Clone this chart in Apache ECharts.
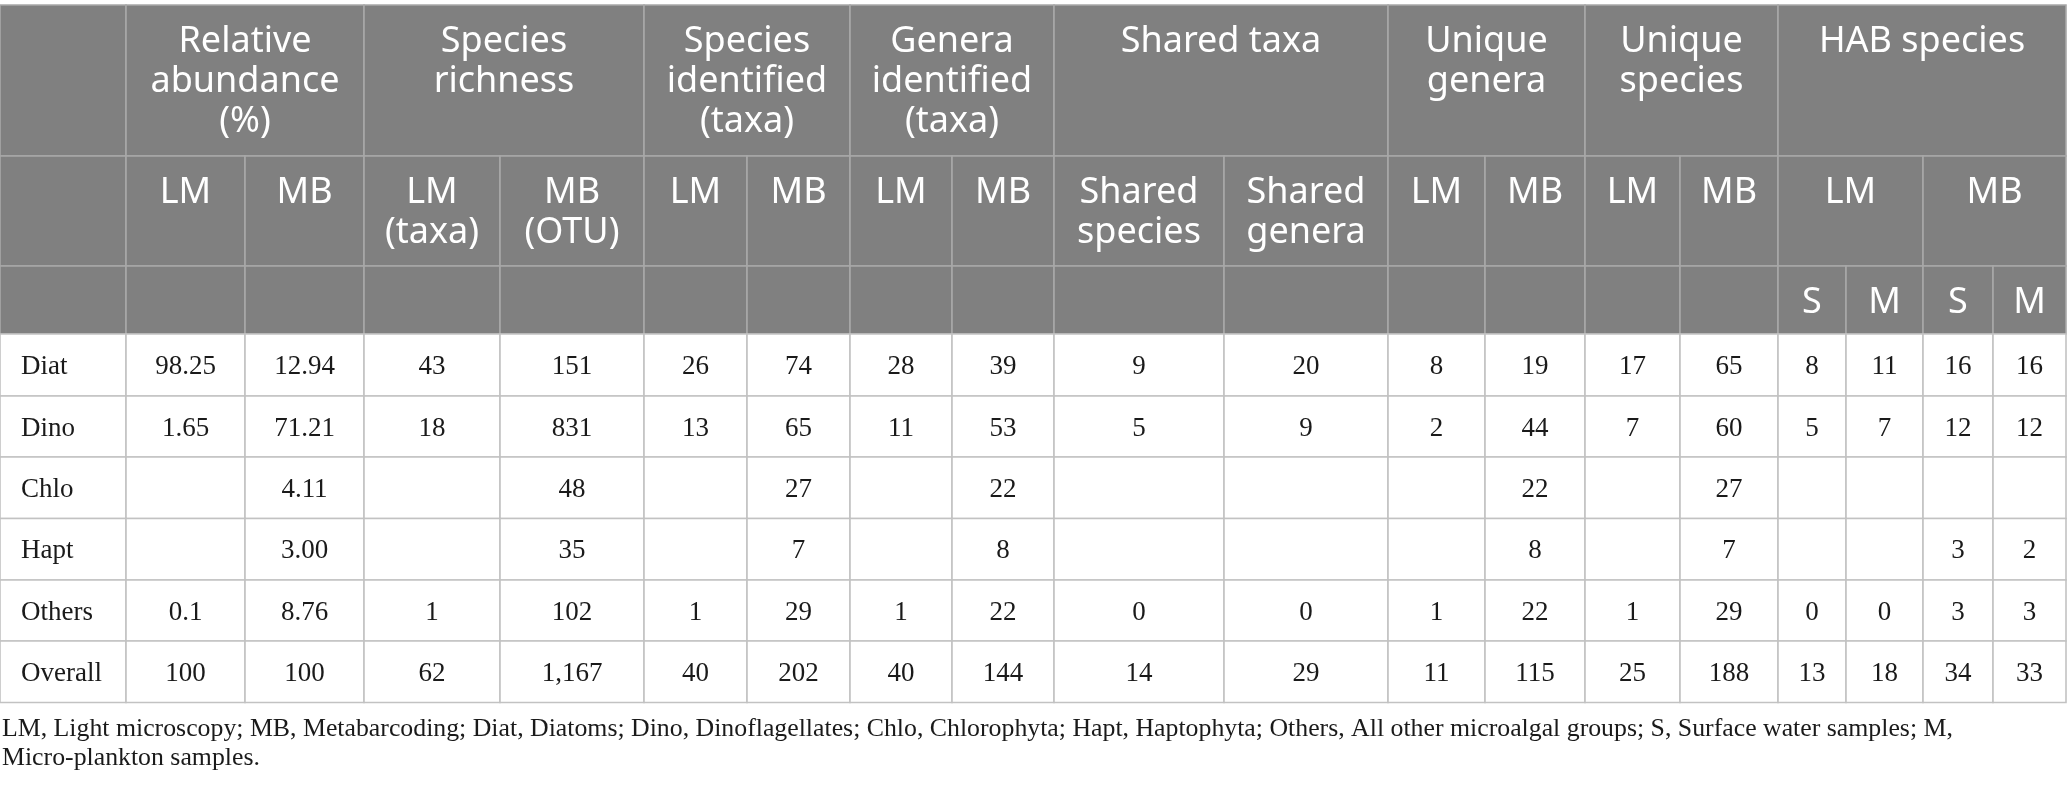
<!DOCTYPE html>
<html>
<head>
<meta charset="utf-8">
<script src="https://cdn.jsdelivr.net/npm/echarts@6/dist/echarts.min.js"></script>
<style>
html,body{margin:0;padding:0;background:#fff;}
#c{width:2068px;height:792px;}
</style>
</head>
<body>
<div id="c"></div>
<script>
// ---------- data ----------
const groups = ['Diat', 'Dino', 'Chlo', 'Hapt', 'Others', 'Overall'];
const headerGroups = ['Relative\nabundance\n(%)', 'Species\nrichness', 'Species\nidentified\n(taxa)', 'Genera\nidentified\n(taxa)', 'Shared taxa', 'Unique\ngenera', 'Unique\nspecies', 'HAB species'];
const subHeaders = ['LM', 'MB', 'LM\n(taxa)', 'MB\n(OTU)', 'LM', 'MB', 'LM', 'MB', 'Shared\nspecies', 'Shared\ngenera', 'LM', 'MB', 'LM', 'MB', 'LM', 'MB'];
const sampleLabels = ['S', 'M', 'S', 'M'];

const relAbundLM   = ['98.25', '1.65', '', '', '0.1', '100'];
const relAbundMB   = ['12.94', '71.21', '4.11', '3.00', '8.76', '100'];
const richLM       = ['43', '18', '', '', '1', '62'];
const richMB       = ['151', '831', '48', '35', '102', '1,167'];
const spIdLM       = ['26', '13', '', '', '1', '40'];
const spIdMB       = ['74', '65', '27', '7', '29', '202'];
const genIdLM      = ['28', '11', '', '', '1', '40'];
const genIdMB      = ['39', '53', '22', '8', '22', '144'];
const sharedSpecies= ['9', '5', '', '', '0', '14'];
const sharedGenera = ['20', '9', '', '', '0', '29'];
const uniqGenLM    = ['8', '2', '', '', '1', '11'];
const uniqGenMB    = ['19', '44', '22', '8', '22', '115'];
const uniqSpLM     = ['17', '7', '', '', '1', '25'];
const uniqSpMB     = ['65', '60', '27', '7', '29', '188'];
const habLMS       = ['8', '5', '', '', '0', '13'];
const habLMM       = ['11', '7', '', '', '0', '18'];
const habMBS       = ['16', '12', '', '3', '3', '34'];
const habMBM       = ['16', '12', '', '2', '3', '33'];

const footnote = [
  'LM, Light microscopy; MB, Metabarcoding; Diat, Diatoms; Dino, Dinoflagellates; Chlo, Chlorophyta; Hapt, Haptophyta; Others, All other microalgal groups; S, Surface water samples; M,',
  'Micro-plankton samples.'
];

// ---------- layout ----------
const colEdges = [0, 126, 245, 364, 500, 644, 747, 850, 952, 1054, 1224, 1388, 1485, 1585, 1680, 1778, 1846, 1923, 1993, 2066];
const headRowEdges = [5, 156, 266, 334];
const bodyRowEdges = [334, 396, 457, 518.5, 580, 641, 702.5];
const groupSpans = [[1,3],[3,5],[5,7],[7,9],[9,11],[11,13],[13,15],[15,19]];
const subSpans = [[1,2],[2,3],[3,4],[4,5],[5,6],[6,7],[7,8],[8,9],[9,10],[10,11],[11,12],[12,13],[13,14],[14,15],[15,17],[17,19]];

const bodyColumns = [relAbundLM, relAbundMB, richLM, richMB, spIdLM, spIdMB, genIdLM, genIdMB,
  sharedSpecies, sharedGenera, uniqGenLM, uniqGenMB, uniqSpLM, uniqSpMB, habLMS, habLMM, habMBS, habMBM];

const cells = [];
function addCell(c0, c1, r0, r1, text, kind) {
  cells.push({ value: [colEdges[c0], colEdges[c1], r0, r1], text: text, kind: kind });
}
// header row 1
addCell(0, 1, headRowEdges[0], headRowEdges[1], '', 'head');
headerGroups.forEach((t, i) => addCell(groupSpans[i][0], groupSpans[i][1], headRowEdges[0], headRowEdges[1], t, 'head'));
// header row 2
addCell(0, 1, headRowEdges[1], headRowEdges[2], '', 'head');
subHeaders.forEach((t, i) => addCell(subSpans[i][0], subSpans[i][1], headRowEdges[1], headRowEdges[2], t, 'head'));
// header row 3
for (let c = 0; c < 15; c++) addCell(c, c + 1, headRowEdges[2], headRowEdges[3], '', 'head');
sampleLabels.forEach((t, i) => addCell(15 + i, 16 + i, headRowEdges[2], headRowEdges[3], t, 'head'));
// body
groups.forEach((g, r) => {
  addCell(0, 1, bodyRowEdges[r], bodyRowEdges[r + 1], g, 'label');
  bodyColumns.forEach((col, c) => addCell(c + 1, c + 2, bodyRowEdges[r], bodyRowEdges[r + 1], col[r], 'body'));
});

function renderItem(params, api) {
  const cell = cells[params.dataIndex];
  const p0 = api.coord([api.value(0), api.value(2)]);
  const p1 = api.coord([api.value(1), api.value(3)]);
  const x = p0[0], y = p0[1], w = p1[0] - p0[0], h = p1[1] - p0[1];
  const isHead = cell.kind === 'head';
  const children = [{
    type: 'rect',
    shape: { x: x, y: y, width: w, height: h },
    style: { fill: isHead ? '#808080' : '#ffffff', stroke: isHead ? '#a8a8a8' : '#c2c2c2', lineWidth: 1.6 }
  }];
  if (cell.text) {
    if (isHead) {
      children.push({
        type: 'text',
        style: { x: x + w / 2, y: y + 17, text: cell.text, fill: '#ffffff', font: '36px "Noto Sans"', lineHeight: 40, align: 'center', verticalAlign: 'top' }
      });
    } else {
      children.push({
        type: 'text',
        style: { x: cell.kind === 'label' ? x + 21 : x + w / 2, y: y + h / 2 + 2, text: cell.text, fill: '#1a1a1a', font: '27px "Liberation Serif"', align: cell.kind === 'label' ? 'left' : 'center', verticalAlign: 'middle' }
      });
    }
  }
  return { type: 'group', children: children };
}

const chart = echarts.init(document.getElementById('c'), null, { renderer: 'canvas' });
chart.setOption({
  animation: false,
  backgroundColor: '#ffffff',
  grid: { left: 0, right: 0, top: 0, bottom: 0 },
  xAxis: { type: 'value', min: 0, max: 2068, show: false },
  yAxis: { type: 'value', min: 0, max: 792, inverse: true, show: false },
  series: [{
    type: 'custom',
    renderItem: renderItem,
    data: cells.map(c => c.value),
    silent: true
  }],
  graphic: footnote.map((t, i) => ({
    type: 'text',
    left: 2,
    top: 716 + i * 29,
    style: { text: t, fill: '#1a1a1a', font: '25.8px "Liberation Serif"' }
  }))
});
</script>
</body>
</html>
